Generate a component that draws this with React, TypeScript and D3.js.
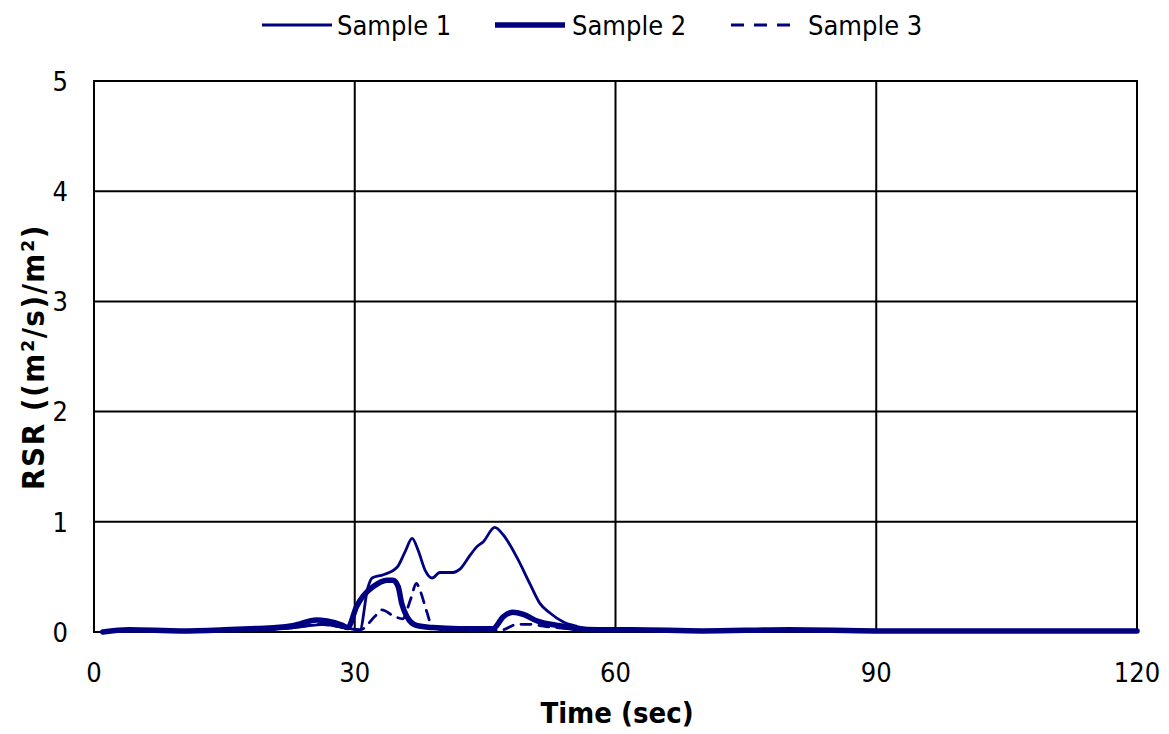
import React from "react";
import * as d3 from "d3";

// time (sec) and RSR readings per sample
const t1 = [1, 5, 10, 15, 20, 23, 25, 26.5, 28, 29.5, 30.6, 31.5, 32, 33.3, 34.9, 35.8, 36.6, 37.3, 38.1, 38.9, 39.8, 41.3, 42.1, 43.3, 44, 44.8, 46.1, 47.1, 48.7, 50.2, 51.3, 52.5, 54, 55.6, 58.2, 62, 70, 80, 90, 100, 110, 120];
const s1 = [0, 0.01, 0.01, 0.01, 0.02, 0.04, 0.06, 0.07, 0.05, 0.03, 0.02, 0.4, 0.49, 0.52, 0.59, 0.73, 0.85, 0.74, 0.56, 0.49, 0.54, 0.54, 0.57, 0.7, 0.77, 0.82, 0.95, 0.88, 0.67, 0.43, 0.26, 0.17, 0.09, 0.05, 0.02, 0.02, 0.01, 0.01, 0.01, 0.01, 0.01, 0.01];

const t2 = [1, 4, 10, 15, 18, 21, 23, 25.6, 26.8, 28.6, 29.2, 30.2, 31, 32.1, 33.7, 34.4, 35, 35.4, 36, 37.1, 39, 42, 45.9, 47.1, 48.2, 49.4, 51, 53.3, 55.6, 58, 62, 70, 80, 90, 100, 110, 120];
const s2 = [0, 0.02, 0.01, 0.02, 0.03, 0.04, 0.06, 0.11, 0.1, 0.06, 0.04, 0.23, 0.33, 0.41, 0.47, 0.47, 0.41, 0.26, 0.14, 0.06, 0.04, 0.03, 0.03, 0.14, 0.18, 0.16, 0.1, 0.06, 0.03, 0.02, 0.02, 0.01, 0.02, 0.01, 0.01, 0.01, 0.01];

const t3 = [1, 5, 10, 15, 20, 23, 26, 28, 29.5, 30.6, 32.3, 33.1, 34.6, 35.5, 36.4, 37.1, 37.5, 38.3, 38.9, 40, 44, 47, 48.7, 50.2, 52, 55, 60, 70, 80, 90, 100, 110, 120];
const s3 = [0, 0.01, 0.01, 0.01, 0.02, 0.04, 0.07, 0.05, 0.03, 0.02, 0.14, 0.2, 0.14, 0.12, 0.29, 0.44, 0.38, 0.18, 0.05, 0.02, 0.01, 0.02, 0.07, 0.07, 0.05, 0.03, 0.02, 0.01, 0.01, 0.01, 0.01, 0.01, 0.01];

const xTicks = [0, 30, 60, 90, 120];
const yTicks = [0, 1, 2, 3, 4, 5];

const FONT = "'DejaVu Sans Condensed', 'DejaVu Sans', sans-serif";
const NAVY = "#000080";

const series = [
  { name: "Sample 1", t: t1, v: s1, width: 2.8, dash: null },
  { name: "Sample 2", t: t2, v: s2, width: 5.5, dash: null },
  { name: "Sample 3", t: t3, v: s3, width: 2.8, dash: "10,8" },
];

export default function App() {
  const width = 1169;
  const height = 734;
  const left = 94, right = 1137, top = 81, bottom = 632;

  const x = d3.scaleLinear().domain([0, 120]).range([left, right]);
  const y = d3.scaleLinear().domain([0, 5]).range([bottom, top]);

  const line = d3.line<[number, number]>()
    .x(d => x(d[0]))
    .y(d => y(d[1]))
    .curve(d3.curveMonotoneX);

  const legendX = [262, 495, 731];
  const legendTextX = [337, 572, 808];

  return (
    <svg width={width} height={height} style={{ position: "absolute", left: 0, top: 0 }} fontFamily={FONT}>
      <rect width={width} height={height} fill="#fff" />
      {/* grid */}
      {yTicks.map(v => (
        <line key={"gy" + v} x1={left} x2={right} y1={y(v)} y2={y(v)} stroke="#000" strokeWidth={2} />
      ))}
      {xTicks.map(v => (
        <line key={"gx" + v} x1={x(v)} x2={x(v)} y1={top} y2={bottom} stroke="#000" strokeWidth={2} />
      ))}
      <rect x={left} y={top} width={right - left} height={bottom - top} fill="none" stroke="#000" strokeWidth={2} />

      {/* series */}
      {series.map(s => (
        <path
          key={s.name}
          d={line(s.t.map((t, i) => [t, s.v[i]] as [number, number])) || ""}
          fill="none"
          stroke={NAVY}
          strokeWidth={s.width}
          strokeDasharray={s.dash || undefined}
          strokeLinejoin="round"
          strokeLinecap="round"
        />
      ))}

      {/* tick labels */}
      {yTicks.map(v => (
        <text key={"ly" + v} x={68} y={y(v)} dy="0.36em" textAnchor="end" fontSize={27}>{v}</text>
      ))}
      {xTicks.map(v => (
        <text key={"lx" + v} x={x(v)} y={682} textAnchor="middle" fontSize={27}>{v}</text>
      ))}

      {/* axis titles */}
      <text x={617} y={723} textAnchor="middle" fontSize={29} fontWeight="bold">Time (sec)</text>
      <text transform="translate(44,357) rotate(-90)" textAnchor="middle" fontSize={31} fontWeight="bold" letterSpacing={1.5}>RSR ((m²/s)/m²)</text>

      {/* legend */}
      {series.map((s, i) => (
        <g key={"lg" + s.name}>
          <line x1={legendX[i]} x2={legendX[i] + (s.dash ? 60 : 70)} y1={25} y2={25} stroke={NAVY}
            strokeWidth={s.width} strokeDasharray={s.dash ? "13,10" : undefined} />
          <text x={legendTextX[i]} y={25} dy="0.36em" fontSize={27}>{s.name}</text>
        </g>
      ))}
    </svg>
  );
}
